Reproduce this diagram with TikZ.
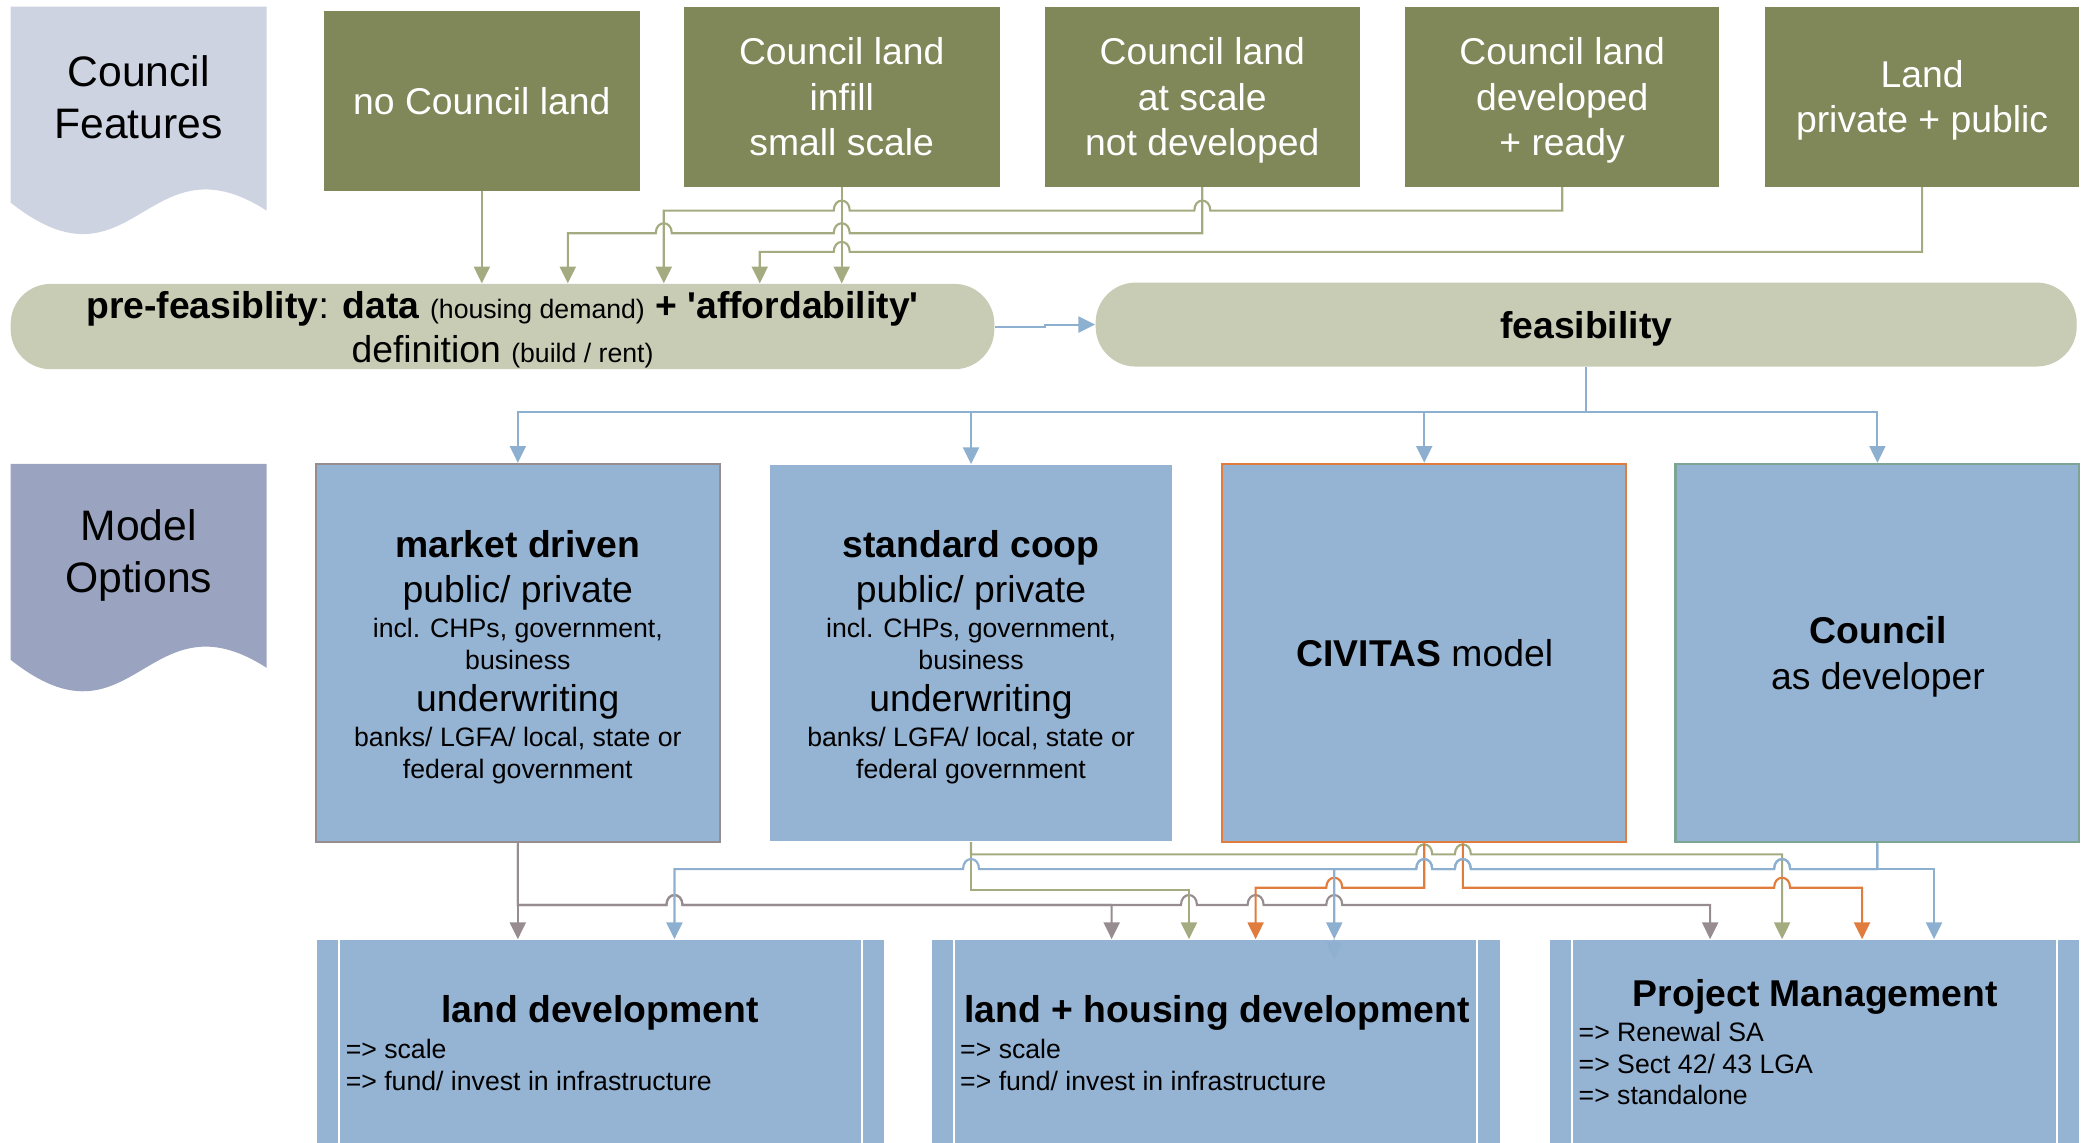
\documentclass[tikz,border=0pt]{standalone}
\usepackage{fontspec}
\setmainfont{Liberation Sans}
\usetikzlibrary{arrows.meta}
\definecolor{olivebox}{HTML}{808759}
\definecolor{oliveln}{HTML}{A4AB80}
\definecolor{pillc}{HTML}{C8CCB4}
\definecolor{docA}{HTML}{CDD3E1}
\definecolor{docB}{HTML}{9AA4C0}
\definecolor{bluebox}{HTML}{95B3D3}
\definecolor{blueln}{HTML}{8DAFD0}
\definecolor{grayln}{HTML}{978D90}
\definecolor{orangeln}{HTML}{E07C3E}
\definecolor{tealln}{HTML}{7DA596}
\newcommand\fsA{\fontsize{14}{17}\selectfont}
\newcommand\fsB{\fontsize{10}{12}\selectfont}
\newcommand\fsC{\fontsize{16}{19.5}\selectfont}
\newcommand\fsP{\fontsize{14}{16.5}\selectfont}
\begin{document}
\begin{tikzpicture}[x=0.5pt,y=-0.5pt,
 conn/.style={line width=0.8pt, -{Triangle[length=6.3pt,width=6pt]}},
 ol/.style={conn, draw=oliveln},
 bl/.style={conn, draw=blueln},
 gr/.style={conn, draw=grayln},
 org/.style={conn, draw=orangeln},
 hopL/.style 2 args={insert path={-- (#1+6,#2) .. controls (#1+6,#2-10) and (#1-6,#2-10) .. (#1-6,#2)}},
 hopR/.style 2 args={insert path={-- (#1-6,#2) .. controls (#1-6,#2-10) and (#1+6,#2-10) .. (#1+6,#2)}},
 olbox/.style={rectangle, fill=olivebox, text=white, align=center, font=\fsA, inner sep=0, text depth=0pt},
 pillst/.style={rectangle, rounded corners=15pt, fill=pillc, inner sep=0, text depth=0pt},
 mbox/.style={rectangle, fill=bluebox, line width=0.8pt, inner sep=0, minimum width=151.5pt, minimum height=142pt},
 pbox/.style={rectangle, fill=bluebox, inner sep=0, minimum height=95pt},
 ln/.style={anchor=base, inner sep=0},
 lnw/.style={anchor=base west, inner sep=0, font=\fsB},
 docfont/.style={font=\fsC, align=center, inner sep=0},
]
\path[use as bounding box] (0,0) rectangle (1568,857);
\clip (0,0) rectangle (1568,857);

% side labels (document shapes)
\fill[docA] (8,5) -- (200,5) -- (200,158) .. controls (110,100) and (100,225) .. (8,152) -- cycle;
\node[docfont] (cf) at (104,73) {Council\\Features};
\fill[docB] (8,348) -- (200,348) -- (200,501) .. controls (110,443) and (100,568) .. (8,495) -- cycle;
\node[docfont] (mo) at (104,417) {Model\\Options};

% council feature boxes
\node[olbox, minimum width=118.5pt, minimum height=67.5pt] (b1) at (361.5,75.5) {no Council land};
\node[olbox, minimum width=118.5pt, minimum height=67.5pt] (b2) at (631.5,72.5) {Council land\\infill\\small scale};
\node[olbox, minimum width=118pt, minimum height=67.5pt] (b3) at (902,72.5) {Council land\\at scale\\not developed};
\node[olbox, minimum width=118pt, minimum height=67.5pt] (b4) at (1172,72.5) {Council land\\developed\\+ ready};
\node[olbox, minimum width=118pt, minimum height=67.5pt] (b5) at (1442,72.5) {Land\\private + public};

% pills
\node[pillst, minimum width=369pt, minimum height=32pt, align=center, font=\fsP] (pre) at (377,245)
 {\textbf{pre-feasiblity}: \textbf{data} {\fsB (housing demand)} \textbf{+ \textquotesingle affordability\textquotesingle}\\definition {\fsB (build / rent)}};
\node[pillst, minimum width=368pt, minimum height=31.5pt, font=\fsA] (feas) at (1190,243.5) {\textbf{feasibility}};

% model boxes
\node[mbox, draw=grayln] (m1) at (388.5,490) {};
\node[mbox, minimum width=150.5pt, minimum height=141pt] (m2) at (728.5,490) {};
\node[mbox, draw=orangeln] (m3) at (1068.5,490) {};
\node[mbox, draw=tealln] (m4) at (1408.5,490) {};

\node[ln, font=\fsA\bfseries] (m1a) at (388.5,418) {market driven};
\node[ln, font=\fsA] (m1b) at (388.5,452) {public/ private};
\node[ln, font=\fsB] (m1c) at (388.5,478) {incl. CHPs, government,};
\node[ln, font=\fsB] (m1d) at (388.5,502) {business};
\node[ln, font=\fsA] (m1e) at (388.5,534) {underwriting};
\node[ln, font=\fsB] (m1f) at (388.5,560) {banks/ LGFA/ local, state or};
\node[ln, font=\fsB] (m1g) at (388.5,584) {federal government};

\node[ln, font=\fsA\bfseries] (m2a) at (728.5,418) {standard coop};
\node[ln, font=\fsA] (m2b) at (728.5,452) {public/ private};
\node[ln, font=\fsB] (m2c) at (728.5,478) {incl. CHPs, government,};
\node[ln, font=\fsB] (m2d) at (728.5,502) {business};
\node[ln, font=\fsA] (m2e) at (728.5,534) {underwriting};
\node[ln, font=\fsB] (m2f) at (728.5,560) {banks/ LGFA/ local, state or};
\node[ln, font=\fsB] (m2g) at (728.5,584) {federal government};

\node[ln, font=\fsA] (m3a) at (1069,500) {\textbf{CIVITAS} model};
\node[ln, font=\fsA\bfseries] (m4a) at (1409,483) {Council};
\node[ln, font=\fsA] (m4b) at (1409,517) {as developer};

% process boxes
\node[pbox, minimum width=212.5pt] (l1) at (450.5,800) {};
\node[pbox, minimum width=213pt] (l2) at (912,800) {};
\node[pbox, minimum width=198.5pt] (l3) at (1361.5,800) {};
\foreach \n in {l1,l2,l3}{
 \draw[white, line width=0.8pt] ([xshift=8.5pt]\n.north west) -- ([xshift=8.5pt]\n.south west);
 \draw[white, line width=0.8pt] ([xshift=-8.5pt]\n.north east) -- ([xshift=-8.5pt]\n.south east);
}
\node[ln, font=\fsA\bfseries] (l1a) at (450,767) {land development};
\node[lnw] (l1b) at (259,794) {=> scale};
\node[lnw] (l1c) at (259,818) {=> fund/ invest in infrastructure};
\node[ln, font=\fsA\bfseries] (l2a) at (913,767) {land + housing development};
\node[lnw] (l2b) at (720,794) {=> scale};
\node[lnw] (l2c) at (720,818) {=> fund/ invest in infrastructure};
\node[ln, font=\fsA\bfseries] (l3a) at (1362,755) {Project Management};
\node[lnw] (l3b) at (1184,781) {=> Renewal SA};
\node[lnw] (l3c) at (1184,805) {=> Sect 42/ 43 LGA};
\node[lnw] (l3d) at (1184,829) {=> standalone};

% top connectors
\draw[ol] (b1.south) -- (b1.south |- pre.north);
\draw[ol] (b2.south) -- (b2.south |- pre.north);
\draw[ol] (b4.south) -- (1172,158) [hopL={902}{158}] [hopL={631.5}{158}] -- (498,158) -- (498,0 |- pre.north);
\draw[ol] (b3.south) -- (902,175) [hopL={631.5}{175}] [hopL={498}{175}] -- (426,175) -- (426,0 |- pre.north);
\draw[ol] (b5.south) -- (1442,189) [hopL={631.5}{189}] -- (570,189) -- (570,0 |- pre.north);

\draw[bl] (pre.east) -| (784,0 |- feas.west) -- (feas.west);

\foreach \m in {m1,m2,m3,m4}{
 \draw[bl] (feas.south) -- (feas.south |- 0,309) -| (\m.north);
}

% bottom connectors
\draw[gr] (m1.south) -- (m1.south |- l1.north);
\draw[gr] (m1.south) -- (388.5,679) [hopR={506}{679}] -- (834,679) -- (834,0 |- l2.north);
\draw[gr] (m1.south) -- (388.5,679) [hopR={506}{679}] [hopR={892}{679}] [hopR={942}{679}] [hopR={1001}{679}] -- (1283,679) -- (1283,0 |- l3.north);

\draw[ol] (m2.south) -- (728.5,668) -- (892,668) -- (892,0 |- l2.north);
\draw[ol] (m2.south) -- (728.5,641) [hopR={1068.5}{641}] [hopR={1097.5}{641}] -- (1337,641) -- (1337,0 |- l3.north);

\draw[org] (m3.south) -- (1068.5,666) [hopL={1001}{666}] -- (942,666) -- (942,0 |- l2.north);
\draw[org] ([xshift=14.5pt]m3.south) -- (1097.5,666) [hopR={1337}{666}] -- (1397,666) -- (1397,0 |- l3.north);

\draw[bl] (m4.south) -- (1408.5,652) [hopL={1337}{652}] [hopL={1097.5}{652}] [hopL={1068.5}{652}] -- (1001,652) -- (1001,0 |- l2.north);
\draw[bl] (m4.south) -- (1408.5,652) [hopL={1337}{652}] [hopL={1097.5}{652}] [hopL={1068.5}{652}] [hopL={728.5}{652}] -- (506,652) -- (506,0 |- l1.north);
\draw[bl] (m4.south) -- (1408.5,652) -- (1451,652) -- (1451,0 |- l3.north);
\draw[bl, opacity=0.4] (1001,0 |- l2.north) -- ++(0,15);
\end{tikzpicture}
\end{document}
